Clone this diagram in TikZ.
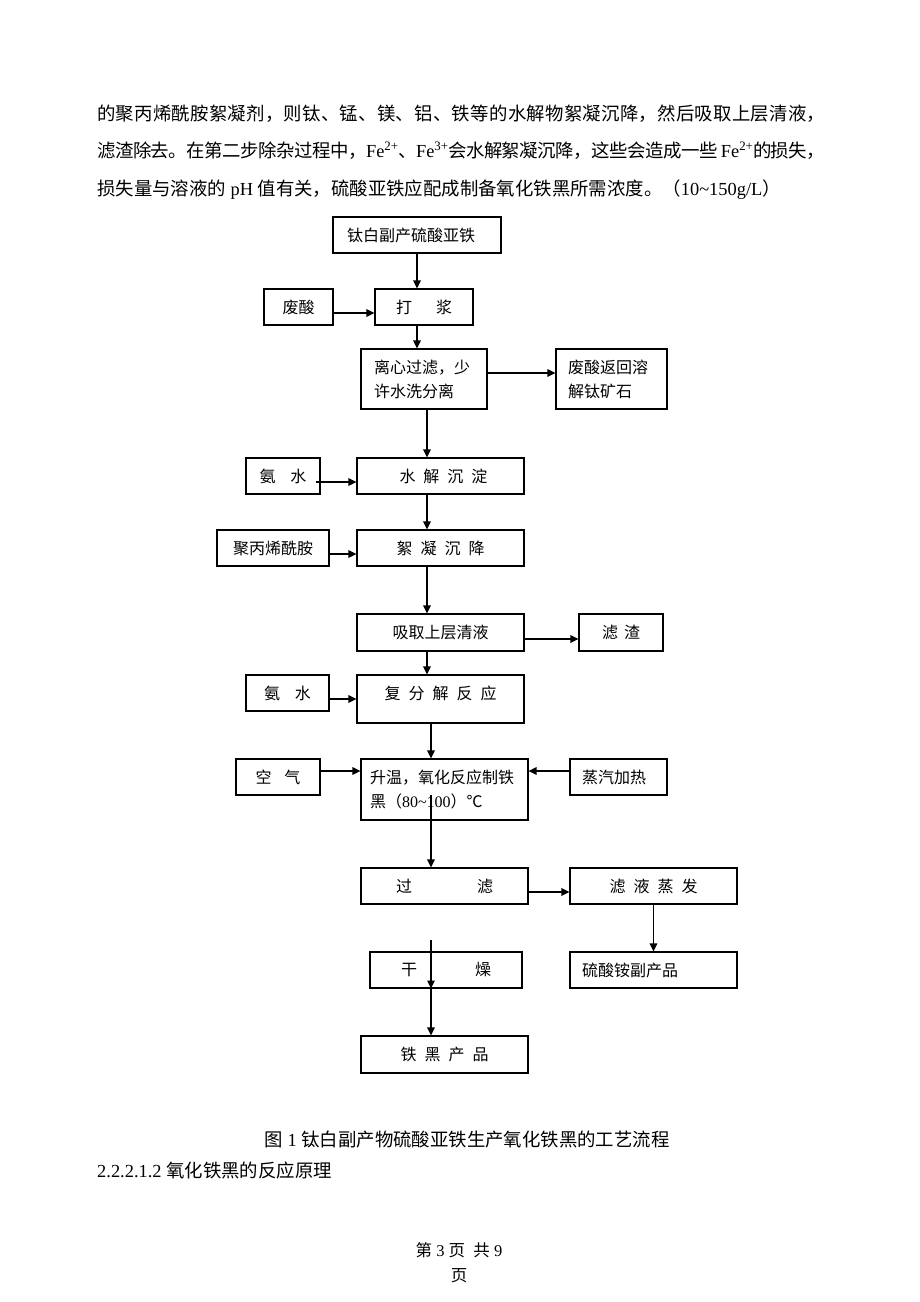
\documentclass[tikz,border=0pt]{standalone}
\usepackage{fontspec}
\setmainfont{Noto Sans CJK SC}
\newfontfamily\latf{Liberation Serif}
\newcommand\lt[1]{{\latf #1}}
\usetikzlibrary{arrows.meta}
\def\spreadchars#1{\ifx\relax#1\else#1\hskip 0pt plus 1fil minus 1pt\expandafter\spreadchars\fi}
\tikzset{
  bx/.style={draw, line width=1.1pt, inner sep=0pt, font=\fontsize{16}{24}\selectfont},
  arr/.style={line width=1.2pt, -{Triangle[length=8pt,width=7.5pt]}},
  txt/.style={inner sep=0pt, font=\fontsize{18.4}{20}\selectfont}
}
\begin{document}
\begin{tikzpicture}[x=1pt,y=-1pt]
\useasboundingbox (0,0) rectangle (920,1302);
\fill[white] (0,0) rectangle (920,1302);

% body text
\node[txt, anchor=base west] (t1) at (97,120) {\hbox to 728pt{\spreadchars 的聚丙烯酰胺絮凝剂，则钛、锰、镁、铝、铁等的水解物絮凝沉降，然后吸取上层清液，\relax\unskip}};
\node[txt, anchor=base west] (t2) at (97,157) {\hbox to 728pt{\spreadchars 滤渣除去。在第二步除杂过程中，{\lt{Fe\textsuperscript{2+}}}、{\lt{Fe\textsuperscript{3+}}}会水解絮凝沉降，这些会造成一些{\lt{\ Fe\textsuperscript{2+}}}的损失，\relax\unskip}};
\node[txt, anchor=base west] (t3) at (97,195) {损失量与溶液的\lt{\ pH\ }值有关，硫酸亚铁应配成制备氧化铁黑所需浓度。（\lt{10\textasciitilde150g/L}）};

% boxes
\node[bx, minimum width=168pt, minimum height=36pt, text width=140pt, align=left] (b1) at (417,235) {钛白副产硫酸亚铁};
\node[bx, minimum width=69pt, minimum height=36pt] (fs) at (298.5,307) {废酸};
\node[bx, minimum width=98pt, minimum height=36pt] (dj) at (424,307) {打\hspace{24pt}浆};
\node[bx, minimum width=126pt, minimum height=60pt, text width=100pt, align=left] (lx) at (424,379) {离心过滤，少\\许水洗分离};
\node[bx, minimum width=111pt, minimum height=60pt, text width=87pt, align=left] (fh) at (611.5,379) {废酸返回溶\\解钛矿石};
\node[bx, minimum width=74pt, minimum height=36pt] (an1) at (283,476) {氨\hspace{15pt}水};
\node[bx, minimum width=167pt, minimum height=36pt] (sj) at (440.5,476) {\hspace{6pt}水\hspace{8pt}解\hspace{8pt}沉\hspace{8pt}淀};
\node[bx, minimum width=112pt, minimum height=36pt] (jb) at (273,548) {聚丙烯酰胺};
\node[bx, minimum width=167pt, minimum height=36pt] (xn) at (440.5,548) {絮\hspace{8pt}凝\hspace{8pt}沉\hspace{8pt}降};
\node[bx, minimum width=167pt, minimum height=37pt] (xq) at (440.5,632.5) {吸取上层清液};
\node[bx, minimum width=84pt, minimum height=37pt] (lz) at (621,632.5) {滤\hspace{6pt}渣};
\node[bx, minimum width=83pt, minimum height=36pt] (an2) at (287.5,693) {氨\hspace{15pt}水};
\node[bx, minimum width=167pt, minimum height=48pt, text height=6pt, text depth=6pt] (ff) at (440.5,699) {复\hspace{8pt}分\hspace{8pt}解\hspace{8pt}反\hspace{8pt}应};
\node[bx, minimum width=84pt, minimum height=36pt] (kq) at (278,777) {空\hspace{13pt}气};
\node[bx, minimum width=167pt, minimum height=61pt, text width=149pt, align=left] (sw) at (444.5,789.5) {升温，氧化反应制铁\\黑（\lt{80\textasciitilde100}）℃};
\node[bx, minimum width=97pt, minimum height=36pt, text width=73pt, align=left] (zq) at (618.5,777) {蒸汽加热};
\node[bx, minimum width=167pt, minimum height=36pt] (gl) at (444.5,886) {过\hspace{65pt}滤};
\node[bx, minimum width=167pt, minimum height=36pt] (ly) at (653.5,886) {滤\hspace{8pt}液\hspace{8pt}蒸\hspace{8pt}发};
\node[bx, minimum width=152pt, minimum height=36pt] (gz) at (446,970) {干\hspace{58pt}燥};
\node[bx, minimum width=167pt, minimum height=36pt, text width=143pt, align=left] (la) at (653.5,970) {硫酸铵副产品};
\node[bx, minimum width=167pt, minimum height=37pt] (th) at (444.5,1054.5) {铁\hspace{8pt}黑\hspace{8pt}产\hspace{8pt}品};

% connectors
\draw[arr] (b1.south) -- (b1.south |- dj.north);
\draw[arr] ([yshift=-6pt]fs.east) -- ([yshift=-6pt]fs.east -| dj.west);
\draw[arr] ([xshift=-7pt]dj.south) -- ([xshift=-7pt]dj.south |- lx.north);
\draw[arr] ([yshift=6pt]lx.east) -- ([yshift=6pt]lx.east -| fh.west);
\draw[arr] ([xshift=3pt]lx.south) -- ([xshift=3pt]lx.south |- sj.north);
\draw[arr] ([xshift=-5pt,yshift=-6pt]an1.east) -- ([yshift=-6pt]an1.east -| sj.west);
\draw[arr] ([xshift=-13.5pt]sj.south) -- ([xshift=-13.5pt]sj.south |- xn.north);
\draw[arr] ([yshift=-6pt]jb.east) -- ([yshift=-6pt]jb.east -| xn.west);
\draw[arr] ([xshift=-13.5pt]xn.south) -- ([xshift=-13.5pt]xn.south |- xq.north);
\draw[arr] ([yshift=-6.5pt]xq.east) -- ([yshift=-6.5pt]xq.east -| lz.west);
\draw[arr] ([xshift=-13.5pt]xq.south) -- ([xshift=-13.5pt]xq.south |- ff.north);
\draw[arr] ([yshift=-6pt]an2.east) -- ([yshift=-6pt]an2.east -| ff.west);
\draw[arr] ([xshift=-9.5pt]ff.south) -- ([xshift=-9.5pt]ff.south |- sw.north);
\draw[arr] ([yshift=6pt]kq.east) -- ([yshift=6pt]kq.east -| sw.west);
\draw[arr] ([yshift=6pt]zq.west) -- ([yshift=6pt]zq.west -| sw.east);
\coordinate (c0) at (431,795);
\draw[arr] (c0) -- (c0 |- gl.north);
\draw[arr] ([yshift=-6pt]gl.east) -- ([yshift=-6pt]gl.east -| ly.west);
\draw[arr] (ly.south) -- (ly.south |- la.north);
\coordinate (c1) at (431,940);
\coordinate (c2) at (c1 |- gz.south);
\draw[arr] (c1) -- (c2);
\draw[arr] (c2) -- (c2 |- th.north);

% caption and footer
\node[txt, anchor=base] (cap) at (467,1146) {图\lt{\ 1\ }钛白副产物硫酸亚铁生产氧化铁黑的工艺流程};
\node[txt, anchor=base west] (hd) at (97,1177) {\lt{2.2.2.1.2\ }氧化铁黑的反应原理};
\node[inner sep=0pt, font=\fontsize{16.5}{20}\selectfont, anchor=base] (ft1) at (459,1256) {第\lt{\ 3\ }页\lt{\ \ }共\lt{\ 9}};
\node[inner sep=0pt, font=\fontsize{16.5}{20}\selectfont, anchor=base] (ft2) at (459,1281) {页};
\end{tikzpicture}
\end{document}
